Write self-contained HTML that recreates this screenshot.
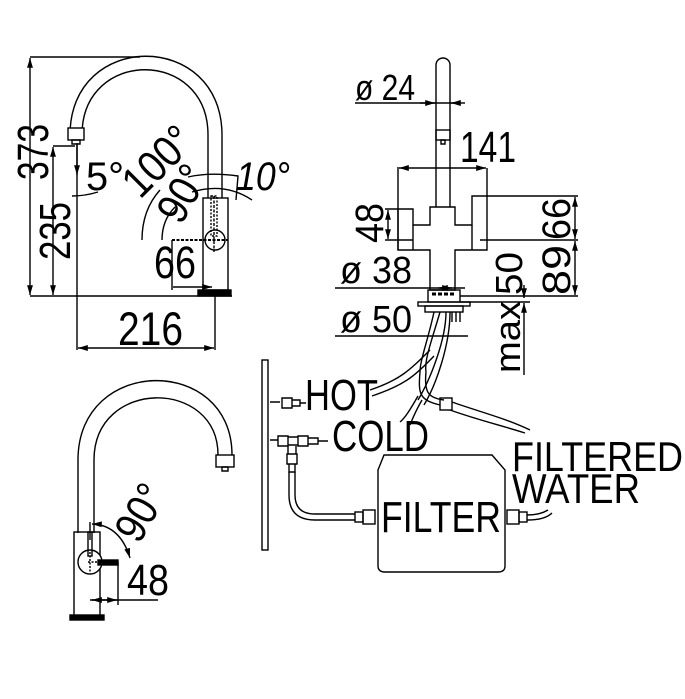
<!DOCTYPE html>
<html><head><meta charset="utf-8"><style>
html,body{margin:0;padding:0;background:#fff;width:685px;height:699px;overflow:hidden}
svg{display:block}
text{font-family:"Liberation Sans Narrow","Liberation Sans",sans-serif;fill:#000}
</style></head><body>
<svg width="685" height="699" viewBox="0 0 685 699" xmlns="http://www.w3.org/2000/svg">
<defs>
<marker id="a" viewBox="0 0 10 10" refX="10" refY="5" markerWidth="7" markerHeight="7" orient="auto-start-reverse"><path d="M0,2 L10,5 L0,8z" fill="#000"/></marker>
</defs>
<g fill="none" stroke="#000" stroke-width="1.4">
<!-- top-left faucet -->
<path d="M70,135 C70,30 222,30 222,135 L222,198"/>
<path d="M82,135 C82,48 208,48 208,135 L208,198"/>
<rect x="68" y="128" width="16" height="12" fill="#fff"/>
<path d="M72,140 h8 v4 h-8z"/>
<rect x="203" y="198" width="25" height="92"/>
<rect x="198" y="290" width="33" height="6" fill="#000"/>
<circle cx="215" cy="240" r="10"/>
<path d="M172,240 H228" stroke-dasharray="3,1.5" stroke-width="2"/>
<path d="M214,196 V252" stroke-dasharray="3,1.5"/>
<rect x="211" y="196" width="6" height="40" stroke-dasharray="2,1.5"/>
<!-- dims left -->
<path d="M30,57 H140 M30,296 H232"/>
<path d="M30,58 V295" marker-start="url(#a)" marker-end="url(#a)"/>
<path d="M53,146 H75"/>
<path d="M53,147 V295" marker-start="url(#a)" marker-end="url(#a)"/>
<path d="M77,143 V350 M215,296 V350"/>
<path d="M78,348 H214" marker-start="url(#a)" marker-end="url(#a)"/>
<path d="M172,240 V290"/>
<path d="M173,287 H212" marker-end="url(#a)"/>
<path d="M77,145 V175" marker-end="url(#a)"/>
<path d="M72,196 Q85,196 98,192"/>
<path d="M142,240 Q142,210 160,190"/>
<path d="M162,240 Q162,220 175,207"/>
<path d="M188,177 Q210,172 238,176 L236,200"/>
<path d="M192,192 Q225,182 252,200"/>
<!-- right top faucet -->
<path d="M436,207 V65 A7,7 0 0 1 450,65 V207"/>
<rect x="436" y="130" width="14" height="10"/>
<path d="M441,140 h4 v4 h-4z"/>
<path d="M430,207 H455 V225 H472 V196 H487 V250 H472 V250 H455 V290 H430 V250 H413 V250 H398 V209 H413 V225 H430 Z" fill="#fff"/>
<path d="M413,225 V250 M472,225 V250"/>
<rect x="428" y="290" width="32" height="12"/>
<path d="M432,294 h24" stroke-dasharray="4,2" stroke-width="3"/>
<rect x="418" y="302" width="52" height="4"/>
<rect x="425" y="306" width="38" height="6"/>
<path d="M452,312 V322 M456,312 V322 M460,312 V322"/>
<path d="M434,312 C428,340 420,360 420,372 M440,312 C432,340 424,360 426,372 M446,312 C446,340 430,380 418,400 M450,312 C450,345 436,385 424,405"/>
<path d="M420,372 C418,395 420,400 440,405 M426,372 C424,392 428,398 444,400"/>
<path d="M430,350 C410,370 400,380 370,390 M434,356 C416,375 405,385 372,396"/>
<rect x="440" y="398" width="12" height="12"/>
<path d="M452,402 C480,412 505,418 530,430 M450,410 C478,420 500,425 525,433"/>
<path d="M422,400 C415,412 412,420 410,425 M418,396 C410,410 405,418 400,422"/>
<!-- dims right -->
<path d="M355,103 H460"/>
<path d="M420,103 H435" marker-end="url(#a)"/>
<path d="M465,103 H451" marker-end="url(#a)"/>
<path d="M398,167 V250 M487,168 V196"/>
<path d="M399,168 H486" marker-start="url(#a)" marker-end="url(#a)"/>
<path d="M388,210 V239" marker-start="url(#a)" marker-end="url(#a)"/>
<path d="M385,209 H398 M385,240 H413"/>
<path d="M487,196 H578 M480,240 H578 M460,296 H578"/>
<path d="M575,197 V239" marker-start="url(#a)" marker-end="url(#a)"/>
<path d="M575,241 V295" marker-start="url(#a)" marker-end="url(#a)"/>
<path d="M335,288 H465"/>
<path d="M438,288 H452" marker-start="url(#a)" marker-end="url(#a)"/>
<path d="M335,336 H468"/>
<path d="M524,285 V298" marker-end="url(#a)"/>
<path d="M524,375 V303" marker-end="url(#a)"/>
<path d="M460,302 H530"/>
<!-- bottom install -->
<rect x="262" y="360" width="6" height="190"/>
<path d="M270,402 h10 M282,398 h10 v10 h-10z M292,400 h8 v6 h-8z M300,403 h6"/>
<path d="M270,440 h8 M278,436 h10 v10 h-10z M288,437 h10 v8 h-10z M298,436 h10 v10 h-10z M308,438 h10 v6 h-10z M318,441 h10"/>
<path d="M288,446 v8 h8 v-8 M287,454 h10 v10 h-10z M289,464 h6 v8 h-6z"/>
<path d="M289,472 V495 Q289,520 315,520 H355 M295,472 V495 Q295,514 315,514 H355"/>
<rect x="355" y="512" width="8" height="10"/>
<rect x="363" y="510" width="12" height="14"/>
<path d="M384,455 H492 L505,470 V566 Q505,572 498,572 H385 Q378,572 378,566 V470 Z" fill="#fff"/>
<rect x="507" y="510" width="12" height="14"/>
<rect x="519" y="512" width="8" height="10"/>
<path d="M527,515 Q540,515 548,510 M527,520 Q545,520 552,513"/>
<!-- bottom-left faucet -->
<path d="M78,533 V460 C78,355 232,355 232,455 V465"/>
<path d="M94,533 V460 C94,378 218,378 218,455 V465"/>
<rect x="216" y="455" width="18" height="12" fill="#fff"/>
<path d="M222,467 h6 v4 h-6z"/>
<rect x="74" y="532" width="26" height="84"/>
<rect x="70" y="615" width="34" height="5" fill="#000"/>
<circle cx="90" cy="562" r="12" fill="#fff"/>
<rect x="88" y="532" width="4" height="24"/>
<rect x="98" y="560" width="20" height="5" fill="#000"/>
<path d="M88,562 H100 M90,552 V572" stroke-dasharray="2,1.5"/>
<path d="M90,522 V540"/>
<path d="M92,524 Q120,525 130,558" marker-start="url(#a)" marker-end="url(#a)"/>
<path d="M118,562 V605 M158,600 H90"/>
<path d="M92,600 H117" marker-start="url(#a)" marker-end="url(#a)"/>
</g>
<!-- text -->
<g font-size="44">
<text transform="translate(48,180) rotate(-90)" textLength="56" lengthAdjust="spacingAndGlyphs">373</text>
<text transform="translate(70,260) rotate(-90)" textLength="58" lengthAdjust="spacingAndGlyphs">235</text>
<text x="118" y="345" font-size="47" textLength="65" lengthAdjust="spacingAndGlyphs">216</text>
<text x="154" y="278" font-size="45" textLength="42" lengthAdjust="spacingAndGlyphs">66</text>
<text x="86" y="190" font-size="40" textLength="38" lengthAdjust="spacingAndGlyphs">5°</text>
<text transform="translate(140,200) rotate(-45)" font-size="44" textLength="80" lengthAdjust="spacingAndGlyphs">100°</text>
<text transform="translate(181,226) rotate(-60)" font-size="44" textLength="58" lengthAdjust="spacingAndGlyphs">90°</text>
<text x="236" y="190" font-size="40" font-style="italic" textLength="54" lengthAdjust="spacingAndGlyphs">10°</text>
<text x="355" y="100" font-size="36" textLength="60" lengthAdjust="spacingAndGlyphs">ø 24</text>
<text x="460" y="162" font-size="44" textLength="56" lengthAdjust="spacingAndGlyphs">141</text>
<text transform="translate(383,243) rotate(-90)" font-size="40" textLength="40" lengthAdjust="spacingAndGlyphs">48</text>
<text x="340" y="283" font-size="38" textLength="72" lengthAdjust="spacingAndGlyphs">ø 38</text>
<text x="340" y="332" font-size="38" textLength="72" lengthAdjust="spacingAndGlyphs">ø 50</text>
<text transform="translate(570,240) rotate(-90)" font-size="40" textLength="42" lengthAdjust="spacingAndGlyphs">66</text>
<text transform="translate(570,295) rotate(-90)" font-size="40" textLength="50" lengthAdjust="spacingAndGlyphs">89</text>
<text transform="translate(522,295) rotate(-90)" font-size="38" textLength="43" lengthAdjust="spacingAndGlyphs">50</text>
<text transform="translate(520,373) rotate(-90)" font-size="36" textLength="72" lengthAdjust="spacingAndGlyphs">max</text>
<text x="305" y="410" font-size="44" textLength="73" lengthAdjust="spacingAndGlyphs">HOT</text>
<text x="332" y="451" font-size="44" textLength="97" lengthAdjust="spacingAndGlyphs">COLD</text>
<text x="512" y="471" font-size="42" textLength="171" lengthAdjust="spacingAndGlyphs">FILTERED</text>
<text x="512" y="503" font-size="42" textLength="128" lengthAdjust="spacingAndGlyphs">WATER</text>
<text x="381" y="532" font-size="44" textLength="120" lengthAdjust="spacingAndGlyphs">FILTER</text>
<text transform="translate(139,545) rotate(-60)" font-size="44" textLength="58" lengthAdjust="spacingAndGlyphs">90°</text>
<text x="127" y="595" font-size="44" textLength="42" lengthAdjust="spacingAndGlyphs">48</text>
</g>
</svg>
</body></html>
